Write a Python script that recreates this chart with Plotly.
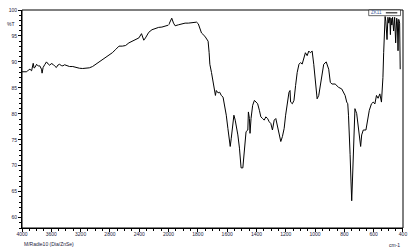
import plotly.graph_objects as go

# Wavenumber (cm-1) and transmittance (%T)
wavenumber = [
    4000, 3936, 3912, 3892, 3869, 3847, 3835, 3824, 3801, 3777, 3757, 3734, 3726, 3712,
    3689, 3666, 3642, 3622, 3601, 3577, 3554, 3531, 3510, 3487, 3464, 3442, 3419, 3396,
    3352, 3307, 3261, 3216, 3172, 3126, 3081, 3037, 2991, 2946, 2902, 2856, 2811, 2767,
    2721, 2676, 2631, 2586, 2541, 2496, 2450, 2405, 2369, 2351, 2338, 2315, 2270, 2226,
    2180, 2135, 2091, 2045, 2000,
    1978, 1966, 1955, 1932, 1910, 1887, 1865, 1843, 1820, 1809, 1797, 1786, 1775, 1752,
    1730, 1723, 1718, 1707, 1696, 1684, 1680, 1674, 1662, 1651, 1640, 1628, 1617, 1606,
    1595, 1583, 1579, 1572, 1561, 1554, 1545, 1538, 1527, 1516, 1505, 1493, 1482, 1471,
    1459, 1455, 1448, 1444, 1437, 1426, 1414, 1403, 1392, 1380, 1370, 1358, 1347, 1336,
    1324, 1313, 1302, 1291, 1279, 1268, 1257, 1245, 1234, 1223, 1211, 1201, 1189, 1178,
    1171, 1167, 1155, 1144, 1133, 1122, 1110, 1099, 1088, 1076, 1066, 1054, 1043, 1032,
    1020, 1009, 998, 986, 975, 964, 953, 941, 924, 907, 896, 885, 863, 840, 818, 806,
    795, 784, 777, 772, 765, 761, 755, 750, 745, 738, 728, 716, 705, 689, 682, 671, 653,
    644, 630, 615, 603, 592, 581, 570, 558, 547, 541, 537, 532, 527, 522, 517, 509, 503,
    497, 490, 486, 482, 476, 471, 464, 457, 450, 443, 439, 434, 429, 423, 419,
]
transmittance = [
    88.10, 88.10, 88.44, 88.59, 88.29, 89.73, 88.82, 88.92, 89.54, 89.20, 89.24, 88.59, 87.83, 88.92,
    89.49, 90.00, 89.58, 89.35, 89.68, 89.54, 89.20, 88.92, 89.39, 89.54, 89.30, 89.24, 89.45, 89.35,
    89.11, 89.11, 88.92, 88.78, 88.73, 88.78, 88.86, 89.11, 89.54, 90.00, 90.49, 90.82, 91.25, 91.77,
    92.40, 93.04, 93.04, 93.16, 93.67, 93.99, 94.20, 94.62, 95.44, 94.62, 94.18, 94.62, 95.70, 96.20,
    96.46, 96.65, 96.71, 96.96, 97.09,
    98.42, 97.47, 96.96, 97.15, 97.34, 97.47, 97.47, 97.60, 97.72, 97.66, 97.34, 96.52, 95.57, 94.94,
    93.99, 91.77, 89.54, 87.97, 86.06, 84.49, 83.54, 84.49, 84.03, 84.16, 83.54, 83.21, 81.63, 79.73,
    77.19, 74.98, 73.71, 75.29, 77.51, 79.73, 78.78, 77.83, 75.93, 73.38, 69.58, 69.58, 72.43, 76.56,
    76.88, 80.36, 79.09, 76.24, 79.09, 81.63, 82.59, 82.26, 81.94, 80.68, 79.41, 79.09, 78.78, 79.41,
    79.09, 78.46, 78.14, 76.88, 78.78, 79.09, 77.51, 75.61, 74.66, 75.61, 77.19, 79.73, 82.26, 84.16,
    84.49, 82.26, 81.94, 82.59, 85.44, 87.97, 89.54, 89.87, 89.58, 90.82, 91.77, 91.20, 92.09, 91.77,
    92.09, 89.54, 86.06, 82.89, 83.54, 85.44, 87.97, 89.54, 90.00, 88.59, 86.06, 85.74, 85.74, 85.11, 84.79, 84.16,
    83.54, 82.26, 81.94, 79.73, 75.93, 72.13, 67.05, 63.25, 67.05, 74.03, 80.99, 80.04, 77.83, 73.71, 75.93, 76.88, 76.88,
    78.14, 80.68, 81.94, 82.26, 81.90, 83.54, 83.00, 83.84, 82.26, 84.49, 87.00, 91.77, 97.47, 98.75, 97.85, 94.30, 98.60,
    97.47, 98.60, 95.25, 98.42, 97.10, 98.60, 95.95, 98.60, 93.67, 98.42, 97.85, 92.15, 98.20, 97.47, 88.59,
]

upper_ticks = [4000, 3600, 3200, 2800, 2400]
lower_ticks = [2000, 1800, 1600, 1400, 1200, 1000, 800, 600, 400]
y_ticks = [60, 65, 70, 75, 80, 85, 90, 95, 100]
series_name = "ZK11"

FONT = "Liberation Sans"
TXT = "#1a1a3a"

hi = [(w, t) for w, t in zip(wavenumber, transmittance) if w >= 2000]
lo = [(w, t) for w, t in zip(wavenumber, transmittance) if w <= 2000]

fig = go.Figure()
fig.add_trace(go.Scatter(x=[p[0] for p in hi], y=[p[1] for p in hi], mode="lines",
                         line=dict(color="black", width=1), xaxis="x", yaxis="y",
                         showlegend=False, name=series_name))
fig.add_trace(go.Scatter(x=[p[0] for p in lo], y=[p[1] for p in lo], mode="lines",
                         line=dict(color="black", width=1), xaxis="x2", yaxis="y",
                         showlegend=False, name=series_name))

split = 5 / 13
axis_common = dict(showgrid=False, zeroline=False, showline=True, linecolor="black", linewidth=1,
                   ticks="outside", ticklen=3, tickwidth=1, tickcolor="black",
                   tickfont=dict(family=FONT, size=5, color=TXT))

fig.update_layout(
    width=414, height=248,
    margin=dict(l=22, r=7, t=7, b=20),
    paper_bgcolor="white", plot_bgcolor="white",
    xaxis=dict(domain=[0, split], range=[4000, 2000], tickvals=upper_ticks,
               minor=dict(dtick=100, tick0=0, ticks="outside", ticklen=2, tickcolor="black"),
               anchor="y", ticklabelstandoff=-2, **axis_common),
    xaxis2=dict(domain=[split, 1], range=[2000, 400], tickvals=lower_ticks,
                minor=dict(dtick=50, tick0=0, ticks="outside", ticklen=2, tickcolor="black"),
                anchor="y", ticklabelstandoff=-2, **axis_common),
    yaxis=dict(range=[58, 100], tickvals=y_ticks,
               minor=dict(dtick=1, tick0=0, ticks="outside", ticklen=2, tickcolor="black"),
               anchor="x", **axis_common),
    shapes=[
        dict(type="rect", xref="paper", yref="paper", x0=0, x1=1, y0=0, y1=1,
             line=dict(color="black", width=1)),
        # small legend box
        dict(type="rect", xref="paper", yref="paper", x0=0.910, x1=0.9935, y0=0.974, y1=1.0,
             line=dict(color="black", width=0.6), fillcolor="white"),
        dict(type="line", xref="paper", yref="paper", x0=0.955, x1=0.985, y0=0.987, y1=0.987,
             line=dict(color="black", width=1)),
    ],
    annotations=[
        dict(text="%T", xref="paper", yref="paper", x=-0.014, y=0.938, xanchor="right",
             yanchor="middle", showarrow=False, font=dict(family=FONT, size=5, color=TXT)),
        dict(text="M/Radie10 (Dia/ZnSe)", xref="paper", yref="paper", x=0.0, y=-0.05,
             xanchor="left", yanchor="top", showarrow=False,
             font=dict(family=FONT, size=5, color=TXT)),
        dict(text="cm-1", xref="paper", yref="paper", x=0.9985, y=-0.055,
             xanchor="right", yanchor="top", showarrow=False,
             font=dict(family=FONT, size=5, color=TXT)),
        dict(text=series_name, xref="paper", yref="paper", x=0.912, y=0.987,
             xanchor="left", yanchor="middle", showarrow=False,
             font=dict(family=FONT, size=4.5, color="#3a5a9a")),
    ],
)

fig.write_html("out.html")
